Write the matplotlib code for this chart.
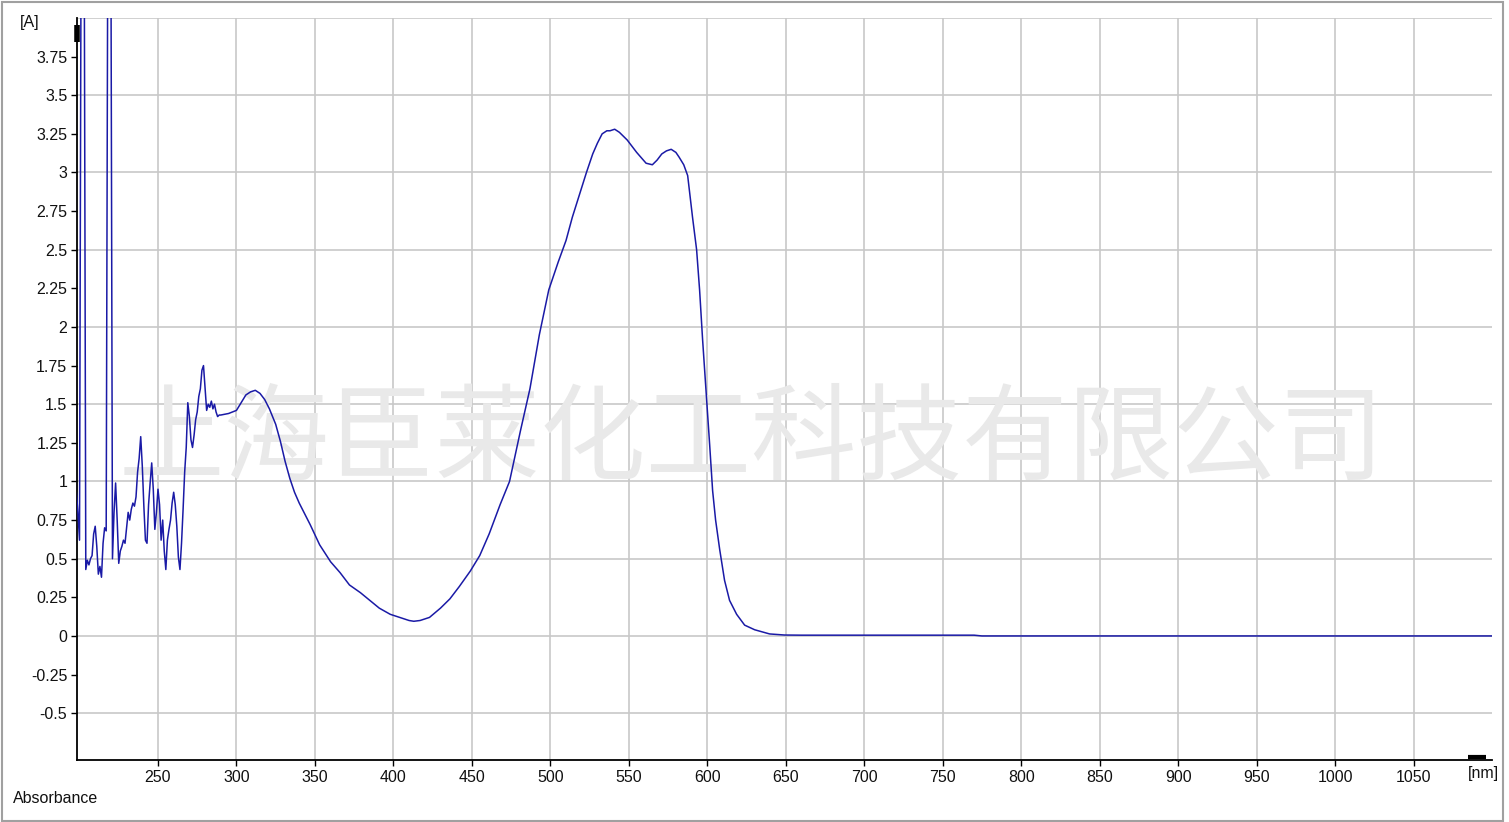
import matplotlib
matplotlib.use("Agg")
import matplotlib.pyplot as plt
import numpy as np
from matplotlib.patches import Rectangle

# noisy part, 1 nm steps (198..289 nm)
noisy_start = 198
noisy_abs = [0.93, 0.80, 0.62, 4.5, 4.5, 4.5, 0.43, 0.49, 0.46, 0.50,
             0.52, 0.66, 0.71, 0.58, 0.40, 0.45, 0.38, 0.60, 0.70, 0.68,
             4.5, 4.5, 4.5, 0.50, 0.80, 0.99, 0.75, 0.47, 0.55, 0.58,
             0.62, 0.60, 0.70, 0.80, 0.75, 0.82, 0.86, 0.84, 0.90, 1.06,
             1.15, 1.29, 1.10, 0.84, 0.62, 0.60, 0.85, 0.99, 1.12, 0.95,
             0.69, 0.80, 0.95, 0.85, 0.62, 0.75, 0.55, 0.43, 0.62, 0.69,
             0.75, 0.86, 0.93, 0.85, 0.71, 0.51, 0.43, 0.60, 0.82, 1.06,
             1.22, 1.51, 1.42, 1.27, 1.22, 1.30, 1.40, 1.45, 1.55, 1.60,
             1.72, 1.75, 1.60, 1.46, 1.50, 1.48, 1.52, 1.47, 1.50, 1.45,
             1.42, 1.43]

# smooth part
smooth_nm = [290, 295, 300, 303, 306, 309, 312, 315, 318, 321, 325, 328,
             331, 334, 337, 340, 347, 353, 360, 366, 372, 379, 385, 391,
             398, 404, 410, 413, 417, 423, 430, 436, 442, 449, 455, 461,
             468, 474, 481, 487, 493, 499, 505, 510, 514, 519, 523, 527,
             530, 533, 536, 538, 541, 544, 549, 555, 561, 565, 568, 571,
             574, 577, 580, 582, 585, 587.5, 590.6, 593.2, 595.1, 597.0,
             599.6, 601.5, 603.4, 605.3, 607.9, 611.0, 614.2, 618.7, 623.8,
             630.2, 639.7, 649.2, 660, 770, 775, 1100]
smooth_abs = [1.43, 1.44, 1.46, 1.51, 1.56, 1.58, 1.59, 1.57, 1.53, 1.47,
              1.37, 1.26, 1.13, 1.02, 0.93, 0.86, 0.72, 0.59, 0.48, 0.41,
              0.33, 0.28, 0.23, 0.18, 0.14, 0.12, 0.10, 0.095, 0.10, 0.12,
              0.18, 0.24, 0.32, 0.42, 0.52, 0.66, 0.85, 1.00, 1.33, 1.60,
              1.95, 2.24, 2.42, 2.56, 2.71, 2.87, 3.00, 3.12, 3.19, 3.25,
              3.27, 3.27, 3.28, 3.26, 3.21, 3.13, 3.06, 3.05, 3.08, 3.12,
              3.14, 3.15, 3.13, 3.10, 3.05, 2.98, 2.71, 2.50, 2.24, 1.92,
              1.53, 1.24, 0.94, 0.75, 0.56, 0.36, 0.23, 0.14, 0.07, 0.04,
              0.013, 0.006, 0.005, 0.005, 0.0, 0.0]

ytick_vals = [-0.5, -0.25, 0, 0.25, 0.5, 0.75, 1, 1.25, 1.5, 1.75, 2,
              2.25, 2.5, 2.75, 3, 3.25, 3.5, 3.75]
ytick_labels = ['-0.5', '-0.25', '0', '0.25', '0.5', '0.75', '1', '1.25',
                '1.5', '1.75', '2', '2.25', '2.5', '2.75', '3', '3.25',
                '3.5', '3.75']
xtick_vals = list(range(250, 1051, 50))

nm = np.concatenate([np.arange(noisy_start, noisy_start + len(noisy_abs)), smooth_nm])
absb = np.concatenate([noisy_abs, smooth_abs])

plt.rcParams['font.family'] = ['Liberation Sans', 'DejaVu Sans']

W, H = 1509, 822
fig = plt.figure(figsize=(W / 100, H / 100), dpi=100)
fig.patch.set_facecolor('white')

# outer frame
fig.patches.append(Rectangle((2 / W, 1 / H), 1501 / W, 819 / H, transform=fig.transFigure,
                             fill=False, edgecolor='#a0a0a0', lw=1.5))

ax = fig.add_axes([77 / W, (H - 760) / H, (1492 - 77) / W, (760 - 18) / H])
ax.set_xlim(198.4, 1100)
ax.set_ylim(-0.803, 4.0)

# grid
for g in np.arange(-0.5, 4.01, 0.5):
    ax.axhline(g, color='#c8c8c8', lw=1.2, zorder=1)
for g in xtick_vals:
    ax.axvline(g, color='#c8c8c8', lw=1.2, zorder=1)

# watermark
ax.text(0.477, 0.43, '上海臣莱化工科技有限公司', transform=ax.transAxes,
        fontsize=76, color='#e9e9e9', ha='center', va='center',
        family=['Noto Sans CJK SC', 'DejaVu Sans'], zorder=2)

ax.plot(nm, absb, color='#1a1aa6', lw=1.1, zorder=3)

for s in ['top', 'right']:
    ax.spines[s].set_visible(False)
for s in ['left', 'bottom']:
    ax.spines[s].set_color('black')
    ax.spines[s].set_linewidth(1.3)

ax.set_yticks(ytick_vals)
ax.set_yticklabels(ytick_labels)
ax.set_xticks(xtick_vals)
ax.set_xticklabels([str(v) for v in xtick_vals])
ax.tick_params(axis='both', direction='out', length=4, width=1, color='black',
               labelsize=11.5, labelcolor='#111111')
ax.tick_params(axis='y', pad=3)
ax.tick_params(axis='x', pad=3)

# axis arrow marks
ax.plot([0, 0], [0.967, 0.99], transform=ax.transAxes, color='black', lw=4,
        solid_capstyle='butt', clip_on=False, zorder=5)
ax.plot([0.983, 0.996], [0.004, 0.004], transform=ax.transAxes, color='black', lw=3,
        solid_capstyle='butt', clip_on=False, zorder=5)

fig.text(20 / W, 1 - 22 / H, '[A]', fontsize=11.5, ha='left', va='center', color='#111111')
fig.text(13 / W, 1 - 798 / H, 'Absorbance', fontsize=11.5, ha='left', va='center', color='#111111')
fig.text(1468 / W, 1 - 773 / H, '[nm]', fontsize=11.5, ha='left', va='center', color='#111111')

fig.savefig('out.png', dpi=100)
